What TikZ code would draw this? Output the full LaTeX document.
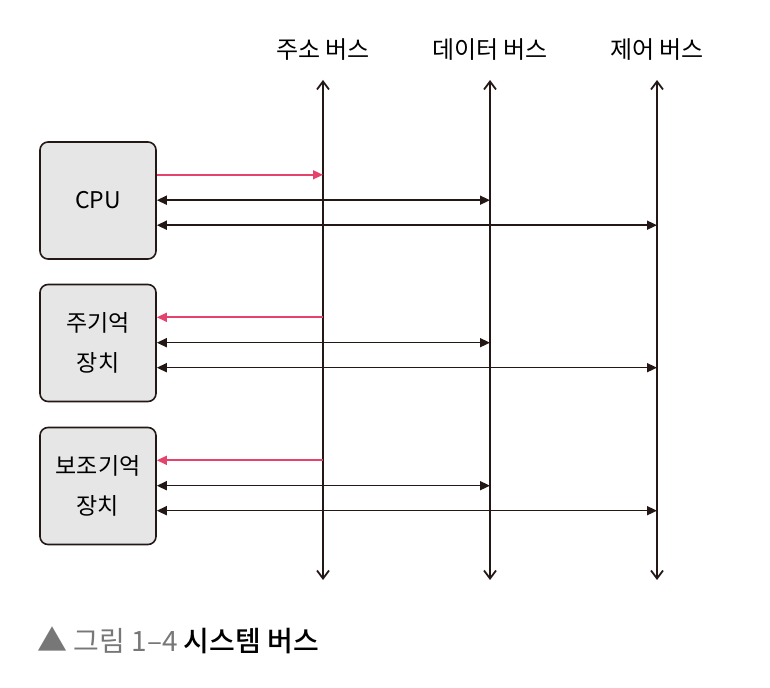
\documentclass[tikz,border=0pt]{standalone}
\usepackage{fontspec}
\setmainfont{Noto Sans CJK KR}
\newfontfamily\capmedium{Noto Sans CJK KR Medium}
\usepackage{tikz}
\usetikzlibrary{arrows.meta, positioning, calc}

\definecolor{inkBlack}{HTML}{231815}
\definecolor{signalRed}{HTML}{E5436B}
\definecolor{boxGray}{HTML}{E6E6E6}
\definecolor{capGray}{HTML}{777777}

\begin{document}
\begin{tikzpicture}[
    x=0.5pt, y=-0.5pt,
    unit/.style={rectangle, rounded corners=4pt, draw=inkBlack, line width=0.8pt,
                 fill=boxGray, minimum width=58pt, minimum height=58.5pt,
                 align=center, font=\fontsize{11.5}{20}\selectfont, inner sep=0pt},
    buslabel/.style={font=\fontsize{12}{14}\selectfont, inner sep=0pt},
    busline/.style={draw=inkBlack, line width=0.9pt, {Straight Barb[length=4pt,width=6pt]}-{Straight Barb[length=4pt,width=6pt]}},
    redarrow/.style={draw=signalRed, line width=0.8pt},
    blackarrow/.style={draw=inkBlack, line width=0.8pt, {Triangle[length=5pt,width=4.5pt]}-{Triangle[length=5pt,width=4.5pt]}}
  ]
    \useasboundingbox (0,0) rectangle (770,688);

    % buses
    \coordinate (addrtop) at (323,80);
    \coordinate (addrbot) at (323,580);
    \coordinate (datatop) at (490,80);
    \coordinate (databot) at (490,580);
    \coordinate (ctrltop) at (657,80);
    \coordinate (ctrlbot) at (657,580);
    \node[buslabel] (addrlbl) at (323,50) {주소 버스};
    \node[buslabel] (datalbl) at (490,50) {데이터 버스};
    \node[buslabel] (ctrllbl) at (657,50) {제어 버스};
    \draw[busline] (addrbot) -- (addrtop);
    \draw[busline] (databot) -- (datatop);
    \draw[busline] (ctrlbot) -- (ctrltop);

    % units
    \node[unit] (cpu) at (98,200.5) {CPU};
    \node[unit] (mem) at (98,343) {주기억\\장치};
    \node[unit] (sto) at (98,486) {보조기억\\장치};

    \foreach \u in {cpu,mem,sto} {
      \coordinate (\u-r1) at ([yshift=-16.8pt]\u.north east);
      \coordinate (\u-r2) at ([yshift=-29.5pt]\u.north east);
      \coordinate (\u-r3) at ([yshift=-42pt]\u.north east);
      \draw[blackarrow] (\u-r2) -- (\u-r2 -| datatop);
      \draw[blackarrow] (\u-r3) -- (\u-r3 -| ctrltop);
    }
    \draw[redarrow, -{Triangle[length=5pt,width=4.5pt]}] (cpu-r1) -- (cpu-r1 -| addrtop);
    \draw[redarrow, {Triangle[length=5pt,width=4.5pt]}-] (mem-r1) -- (mem-r1 -| addrtop);
    \draw[redarrow, {Triangle[length=5pt,width=4.5pt]}-] (sto-r1) -- (sto-r1 -| addrtop);

    % caption
    \node[anchor=west, inner sep=0pt, font=\fontsize{14}{16}\selectfont] (caption) at (37,640)
      {\textcolor{capGray}{\fontsize{15}{16}\selectfont▲} \textcolor{capGray}{그림 1–4} {\capmedium 시스템 버스}};
  \end{tikzpicture}
\end{document}
